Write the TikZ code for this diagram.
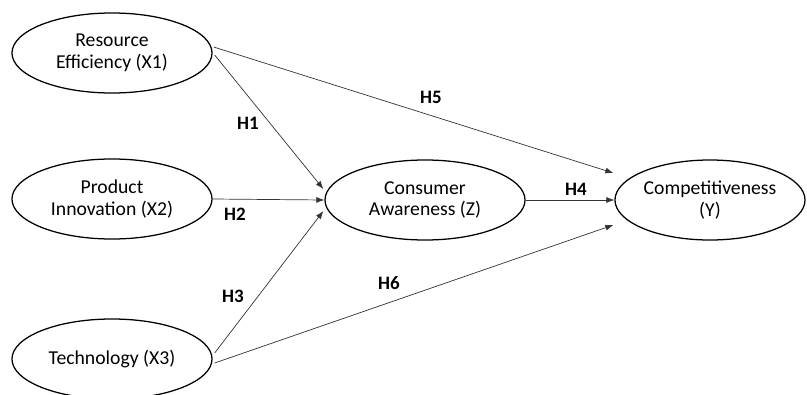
\documentclass[tikz,border=0pt]{standalone}
\usepackage{fontspec}
\setmainfont{Carlito}
\usetikzlibrary{shapes.geometric,calc,arrows.meta}

\tikzset{
  latent/.style={ellipse,draw,line width=0.9pt,minimum width=5cm,minimum height=2cm,
    align=center,inner sep=0pt,font=\fontsize{14}{15.5}\selectfont},
  hyparrow/.style={black!80,line width=0.5pt,-{Latex[length=2mm,width=1.5mm]}},
  hyplabel/.style={font=\fontsize{13.5}{14}\selectfont\bfseries}
}

\begin{document}
\begin{tikzpicture}[x=0.025cm,y=-0.025cm]

\useasboundingbox (0,0) rectangle (807,394);

% constructs
\node[latent] (X1) at (112,53) {Resource\\Efficiency (X1)};
\node[latent] (X2) at (112,199) {Product\\Innovation (X2)};
\node[latent] (X3) at (112,359) {Technology (X3)};
\node[latent] (Z) at (425,200) {Consumer\\Awareness (Z)};
\node[latent,minimum width=4.75cm] (Y) at (710,200) {Competitiveness\\(Y)};

% end points
\coordinate (z1) at ($(Z.west)+(-1,-11)$);
\coordinate (z3) at ($(Z.west)+(-1,11)$);
\coordinate (y1) at ($(Y.west)+(-1,-27)$);
\coordinate (y3) at ($(Y.west)+(-1,25)$);

% paths
\draw[hyparrow] ($(X1.east)+(2,2)$) -- (z1);
\draw[hyparrow] (X2.east) -- (Z.west);
\draw[hyparrow] ($(X3.east)+(2,-6)$) -- (z3);
\draw[hyparrow] (Z.east) -- (Y.west);
\draw[hyparrow] ($(X1.east)+(1,-6)$) -- (y1);
\draw[hyparrow] ($(X3.east)+(2,4)$) -- (y3);

% hypotheses
\node[hyplabel] (H1) at (248,123) {H1};
\node[hyplabel] (H2) at (235,214) {H2};
\node[hyplabel] (H3) at (233,296) {H3};
\node[hyplabel] (H4) at (576,189) {H4};
\node[hyplabel] (H5) at (431,97) {H5};
\node[hyplabel] (H6) at (389,283) {H6};

\end{tikzpicture}
\end{document}
